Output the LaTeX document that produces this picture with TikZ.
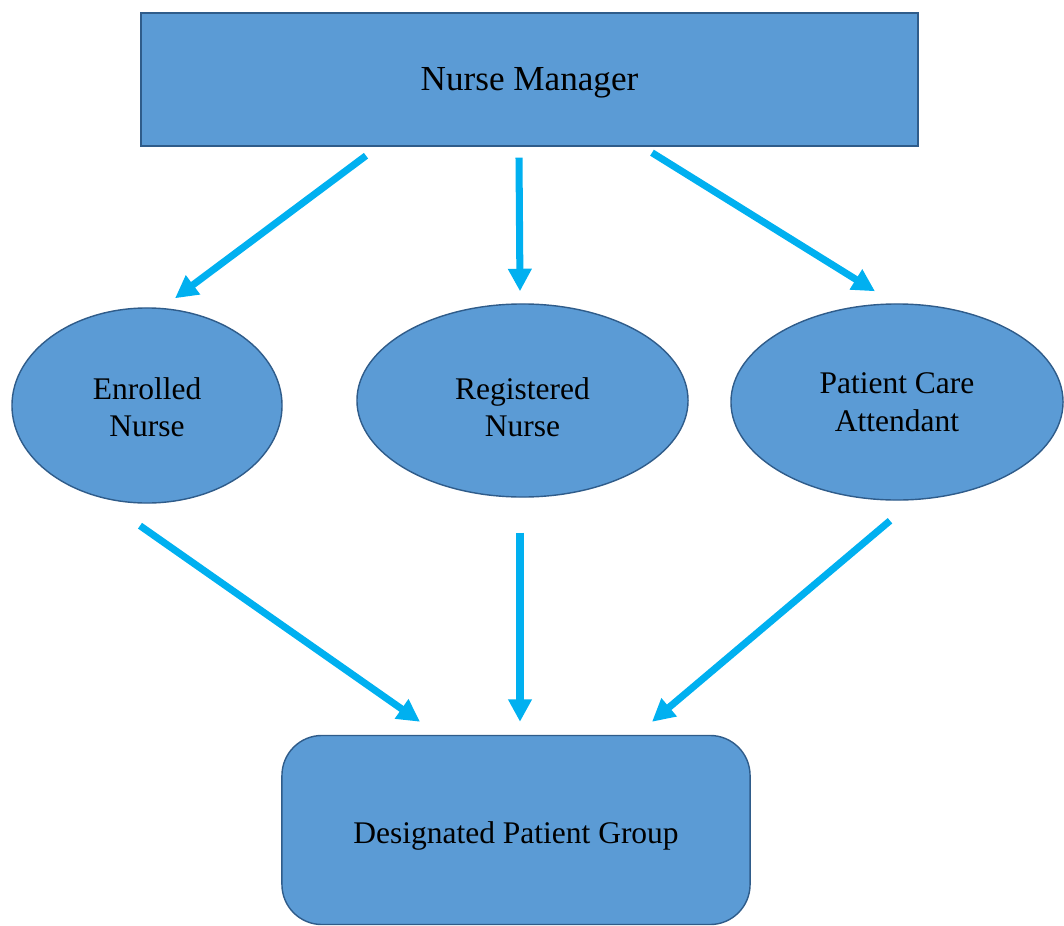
\documentclass[tikz,border=0pt]{standalone}
\usepackage{fontspec}
\setmainfont{Liberation Serif}
\usepackage{xcolor}
\usepackage{tikz}
\usetikzlibrary{
	arrows.meta,
	positioning,
	calc,
	shapes.geometric
}
\definecolor{boxfill}{HTML}{5B9BD5}
\definecolor{boxline}{HTML}{2F5C8A}
\definecolor{flowcyan}{HTML}{00B0F0}
% text set a little lower inside its shape
\newcommand{\lowtext}[2]{\raisebox{-#1}[\height][\depth]{\begin{tabular}{@{}c@{}}#2\end{tabular}}}

\begin{document}
\begin{tikzpicture}[x=0.025cm,y=-0.025cm,
	>={Triangle[length=16pt,width=16pt]},
	mgrbox/.style={draw=boxline,fill=boxfill,line width=1pt,minimum width=19.425cm,minimum height=3.325cm,font=\fontsize{25}{30}\selectfont},
	staff/.style={draw=boxline,fill=boxfill,line width=1pt,ellipse,inner sep=0pt,font=\fontsize{22.4}{26.5}\selectfont},
	groupbox/.style={draw=boxline,fill=boxfill,line width=1pt,rounded corners=1cm,minimum width=11.7cm,minimum height=4.725cm,font=\fontsize{22.4}{26.5}\selectfont},
	flow/.style={->,draw=flowcyan,line width=5pt}
	]
	
	\useasboundingbox (0,0) rectangle (1064,926);
	
	\node[mgrbox] (mgr) at (529.5,79.5) {\lowtext{2pt}{Nurse Manager}};
	
	\node[staff,minimum width=6.75cm,minimum height=4.875cm] (en) at (147,405.5)
	{\lowtext{3.5pt}{Enrolled\\Nurse}};
	\node[staff,minimum width=8.275cm,minimum height=4.825cm] (rn) at (522.5,400.5)
	{\lowtext{7.4pt}{Registered\\Nurse}};
	\node[staff,minimum width=8.3cm,minimum height=4.9cm] (pca) at (897,402)
	{\lowtext{2.2pt}{Patient Care\\Attendant}};
	
	\node[groupbox] (grp) at (516,830) {\lowtext{4.3pt}{Designated Patient Group}};
	
	\draw[flow] ($(mgr.south)+(-163.5,9)$)--($(en.north)+(28,-9)$);
	\draw[flow] ($(mgr.south)+(-10.5,11)$)--($(rn.north)+(-2.5,-12)$);
	\draw[flow] ($(mgr.south)+(122.5,6)$)--($(pca.north)+(-22,-12)$);
	
	\draw[flow] ($(en.south)+(-7,22)$)--($(grp.north)+(-96,-13)$);
	\draw[flow] ($(rn.south)+(-2.5,35)$)--($(grp.north)+(4,-13)$);
	\draw[flow] ($(pca.south)+(-7,20)$)--($(grp.north)+(136,-13)$);
	
\end{tikzpicture}
\end{document}
